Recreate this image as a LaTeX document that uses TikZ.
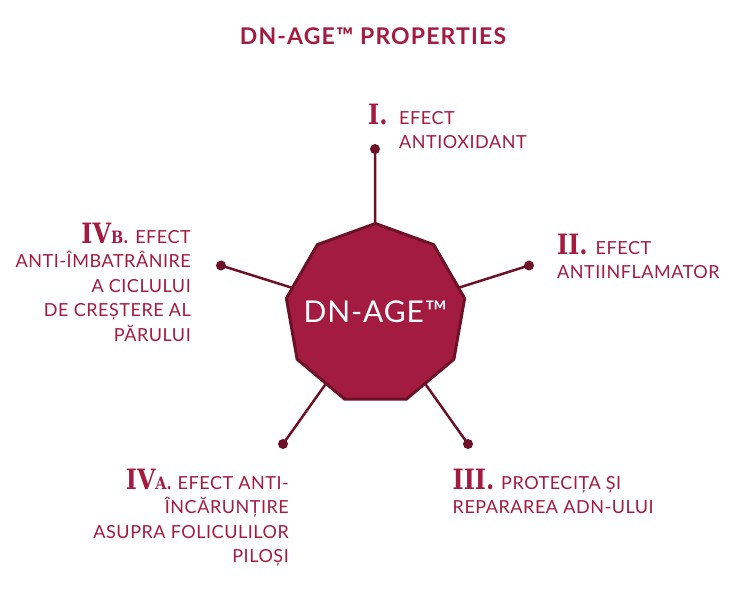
\documentclass[tikz,border=0pt]{standalone}
\usepackage{fontspec}
\setmainfont{Lato}[LetterSpace=3]
\newfontfamily\numfont{DejaVu Serif}[FakeStretch=0.85]
\newfontfamily\ttlfont{Lato}[LetterSpace=5]
\usetikzlibrary{shapes.geometric,backgrounds}
\definecolor{crim}{RGB}{164,27,65}
\definecolor{maroon}{RGB}{108,17,40}
\newcommand\rn[1]{{\numfont\bfseries\fontsize{28}{28}\selectfont #1}}
\newcommand\rs[1]{{\numfont\bfseries\fontsize{17}{17}\selectfont #1}}
\tikzset{
 lbl/.style={inner sep=0pt, text=crim, font=\fontsize{18}{24.4}\selectfont},
 dotnode/.style={circle, fill=maroon, inner sep=0pt, minimum size=10pt},
 conn/.style={draw=maroon, line width=2.5pt},
 core/.style={regular polygon, regular polygon sides=9, minimum size=181pt, inner sep=0pt,
   fill=crim, draw=maroon, line width=3pt},
 coretext/.style={inner sep=0pt, text=white, font=\fontsize{30}{30}\selectfont},
 ttl/.style={inner sep=0pt, text=crim, font=\ttlfont\bfseries\fontsize{23}{23}\selectfont}
}
\setlength\tabcolsep{0pt}
\begin{document}
\begin{tikzpicture}[x=1pt,y=-1pt]
\useasboundingbox (0,0) rectangle (746,593);
\node[ttl, anchor=base] (title) at (373,44.5) {DN-AGE™ PROPERTIES};
\node[core] (core) at (375.5,314) {};
\node[coretext, anchor=base] (coretxt) at (375.5,322) {DN-AGE™};
\node[dotnode] (d1) at (375,149) {};
\node[dotnode] (d2) at (529,265.5) {};
\node[dotnode] (d3) at (468,444) {};
\node[dotnode] (d4) at (283,444) {};
\node[dotnode] (d5) at (221,265.5) {};
\begin{scope}[on background layer]
\fill[white] (0,0) rectangle (746,593);
\draw[conn] (core.center) -- (d1.center);
\draw[conn] (core.center) -- (d2.center);
\draw[conn] (core.center) -- (d3.center);
\draw[conn] (core.center) -- (d4.center);
\draw[conn] (core.center) -- (d5.center);
\end{scope}
\node[lbl, anchor=base west] (t1) at (368,124.5) {\begin{tabular}[t]{@{}l@{}}\makebox[31pt][l]{\rn{I.}}EFECT\\\hspace{31pt}ANTIOXIDANT\end{tabular}};
\node[lbl, anchor=base west] (t2) at (557,254.5) {\begin{tabular}[t]{@{}l@{}}\makebox[38.5pt][l]{\rn{II.}}EFECT\\ANTIINFLAMATOR\end{tabular}};
\node[lbl, anchor=base west] (t3) at (452.5,489.5) {\begin{tabular}[t]{@{}l@{}}\makebox[48.5pt][l]{\rn{III.}}PROTECIȚA ȘI\\REPARAREA ADN-ULUI\end{tabular}};
\node[lbl, anchor=base east] (t4) at (289,489.5) {\begin{tabular}[t]{@{}r@{}}\rn{IV}\rs{A.}\hspace{6pt}EFECT ANTI-\\ÎNCĂRUNȚIRE\\ASUPRA FOLICULILOR\\PILOȘI\end{tabular}};
\node[lbl, anchor=base east] (t5) at (191,243.5) {\begin{tabular}[t]{@{}r@{}}\rn{IV}\rs{B.}\hspace{7pt}EFECT\\ANTI-ÎMBATRÂNIRE\\A CICLULUI\\DE CREȘTERE AL\\PĂRULUI\end{tabular}};
\end{tikzpicture}
\end{document}
